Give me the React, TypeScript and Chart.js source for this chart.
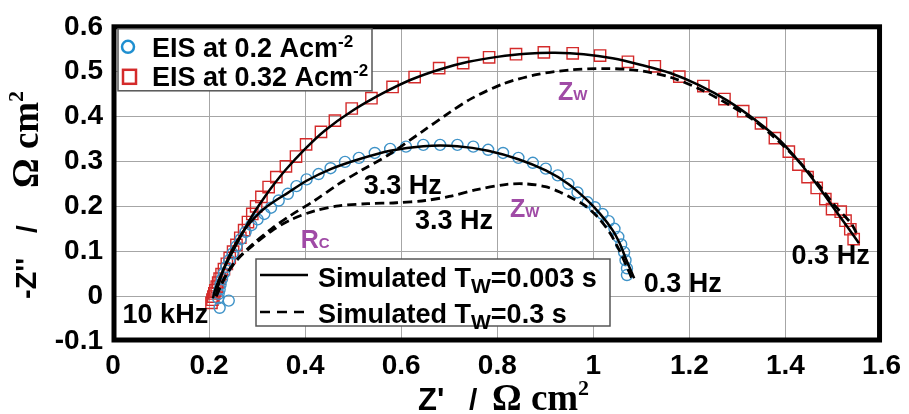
import React, { useEffect, useRef } from 'react';
import { Chart, registerables } from 'chart.js';

Chart.register(...registerables);

// ---------- tick labels ----------
const xTickLabels = ['0', '0.2', '0.4', '0.6', '0.8', '1', '1.2', '1.4', '1.6'];
const yTickLabels = ['-0.1', '0', '0.1', '0.2', '0.3', '0.4', '0.5', '0.6'];

// ---------- measured EIS at 0.2 A cm-2 (circles) ----------
const eis02X = [0.222, 0.241, 0.219, 0.220, 0.222, 0.224, 0.227, 0.231, 0.236, 0.242, 0.249, 0.257, 0.266, 0.276, 0.288, 0.301,
  0.315, 0.329, 0.345, 0.364, 0.382, 0.403, 0.428, 0.453, 0.483, 0.512, 0.545, 0.577, 0.610, 0.646, 0.681, 0.717, 0.750, 0.781,
  0.812, 0.844, 0.874, 0.901, 0.926, 0.948, 0.967, 0.988, 1.003, 1.019, 1.032, 1.044, 1.052, 1.058, 1.064, 1.067, 1.070, 1.070];
const eis02Y = [-0.026, -0.010, -0.005, 0.005, 0.015, 0.026, 0.038, 0.051, 0.065, 0.080, 0.095, 0.111, 0.127, 0.143, 0.158, 0.171,
  0.183, 0.197, 0.213, 0.228, 0.245, 0.260, 0.272, 0.285, 0.299, 0.308, 0.319, 0.328, 0.333, 0.337, 0.337, 0.337, 0.333, 0.326,
  0.319, 0.308, 0.297, 0.284, 0.269, 0.250, 0.231, 0.209, 0.198, 0.183, 0.167, 0.150, 0.132, 0.115, 0.098, 0.080, 0.062, 0.047];

// ---------- measured EIS at 0.32 A cm-2 (squares) ----------
const eis032X = [0.205, 0.207, 0.209, 0.211, 0.213, 0.216, 0.219, 0.222, 0.226, 0.231, 0.237, 0.243, 0.250, 0.257, 0.265, 0.273,
  0.281, 0.290, 0.298, 0.309, 0.324, 0.340, 0.360, 0.381, 0.402, 0.433, 0.462, 0.497, 0.538, 0.582, 0.628, 0.679, 0.729, 0.783,
  0.839, 0.897, 0.957, 1.014, 1.072, 1.128, 1.179, 1.229, 1.273, 1.312, 1.349, 1.378, 1.407, 1.427, 1.446, 1.465, 1.483, 1.497,
  1.515, 1.525, 1.535, 1.542];
const eis032Y = [-0.015, -0.008, -0.001, 0.006, 0.013, 0.021, 0.030, 0.039, 0.049, 0.060, 0.072, 0.085, 0.099, 0.114, 0.130, 0.147,
  0.165, 0.183, 0.200, 0.221, 0.243, 0.265, 0.289, 0.311, 0.338, 0.366, 0.391, 0.418, 0.441, 0.466, 0.488, 0.508, 0.519, 0.532,
  0.539, 0.543, 0.541, 0.536, 0.522, 0.512, 0.489, 0.468, 0.439, 0.412, 0.385, 0.352, 0.322, 0.293, 0.265, 0.241, 0.216, 0.194,
  0.188, 0.168, 0.149, 0.127];

// ---------- simulated, Tw = 0.003 s (solid) ----------
const simFast02X = [0.214, 0.218, 0.224, 0.232, 0.243, 0.257, 0.275, 0.296, 0.315, 0.340, 0.364, 0.403, 0.453, 0.512, 0.577, 0.646,
  0.717, 0.781, 0.844, 0.901, 0.948, 0.985, 1.015, 1.040, 1.056, 1.067, 1.077, 1.085];
const simFast02Y = [0.0, 0.018, 0.040, 0.065, 0.092, 0.120, 0.150, 0.176, 0.195, 0.214, 0.230, 0.257, 0.283, 0.305, 0.324, 0.334,
  0.334, 0.324, 0.305, 0.280, 0.250, 0.216, 0.182, 0.147, 0.115, 0.085, 0.060, 0.040];

const simFast032X = [0.208, 0.212, 0.218, 0.226, 0.236, 0.248, 0.262, 0.277, 0.292, 0.310, 0.330, 0.360, 0.400, 0.440, 0.500, 0.560,
  0.620, 0.680, 0.740, 0.800, 0.860, 0.920, 0.980, 1.040, 1.100, 1.160, 1.220, 1.280, 1.340, 1.390, 1.430, 1.470, 1.500, 1.525,
  1.545, 1.553];
const simFast032Y = [-0.005, 0.012, 0.030, 0.050, 0.072, 0.097, 0.125, 0.155, 0.183, 0.212, 0.242, 0.282, 0.328, 0.368, 0.414, 0.451,
  0.482, 0.505, 0.522, 0.533, 0.540, 0.542, 0.539, 0.530, 0.515, 0.497, 0.470, 0.435, 0.390, 0.345, 0.297, 0.242, 0.197, 0.160,
  0.130, 0.118];

// ---------- simulated, Tw = 0.3 s (dashed) ----------
const simSlow02X = [0.215, 0.225, 0.240, 0.260, 0.290, 0.330, 0.370, 0.420, 0.470, 0.530, 0.590, 0.650, 0.700, 0.760, 0.820, 0.860,
  0.900, 0.930, 0.960, 0.985, 1.010, 1.035, 1.055, 1.070, 1.080];
const simSlow02Y = [0.0, 0.025, 0.055, 0.083, 0.112, 0.145, 0.170, 0.190, 0.201, 0.206, 0.208, 0.213, 0.222, 0.238, 0.249, 0.250,
  0.244, 0.232, 0.216, 0.200, 0.175, 0.140, 0.100, 0.065, 0.040];

const simSlow032X = [0.215, 0.225, 0.240, 0.260, 0.290, 0.330, 0.370, 0.420, 0.470, 0.520, 0.574, 0.643, 0.698, 0.746, 0.815, 0.884,
  0.952, 1.022, 1.091, 1.159, 1.220, 1.280, 1.330, 1.370, 1.410, 1.445, 1.475, 1.500, 1.520, 1.538, 1.548];
const simSlow032Y = [0.0, 0.025, 0.055, 0.083, 0.115, 0.150, 0.180, 0.213, 0.250, 0.282, 0.315, 0.366, 0.407, 0.440, 0.474, 0.494,
  0.504, 0.507, 0.503, 0.488, 0.462, 0.428, 0.395, 0.360, 0.320, 0.280, 0.240, 0.205, 0.182, 0.160, 0.140];

// ---------- in-plot annotations ----------
const annoText = ['10 kHz', '3.3 Hz', '3.3 Hz', '0.3 Hz', '0.3 Hz'];
const annoX = [0.109, 0.603, 0.710, 1.186, 1.494];
const annoY = [-0.044, 0.245, 0.166, 0.026, 0.088];
const symMain = ['Z', 'Z', 'R'];
const symSub = ['W', 'W', 'C'];
const symX = [0.857, 0.957, 0.421];
const symY = [0.196, 0.457, 0.128];

const SANS = '"Liberation Sans", Arial, sans-serif';
const SERIF = '"Liberation Serif", "Times New Roman", serif';
const BLUE = '#3f93c8';
const RED = '#d42a2a';
const PURPLE = '#a04ba6';

const zip = (xs: number[], ys: number[]) => xs.map((x, i) => ({ x, y: ys[i] }));

type Run = { text: string; font: string; dy?: number; color?: string };
function drawRuns(ctx: CanvasRenderingContext2D, x: number, y: number, parts: Run[]) {
  let cx = x;
  for (const p of parts) {
    ctx.font = p.font;
    ctx.fillStyle = p.color || '#000';
    ctx.fillText(p.text, cx, y + (p.dy || 0));
    cx += ctx.measureText(p.text).width;
  }
  return cx - x;
}

const decorPlugin = {
  id: 'decor',
  afterDatasetsDraw(chart: any) {
    const ctx: CanvasRenderingContext2D = chart.ctx;
    const xs = chart.scales.x;
    const ys = chart.scales.y;
    ctx.save();
    ctx.textBaseline = 'middle';
    ctx.textAlign = 'center';
    ctx.fillStyle = '#000';
    ctx.font = `bold 27px ${SANS}`;
    annoText.forEach((t, i) => {
      ctx.fillText(t, xs.getPixelForValue(annoX[i]), ys.getPixelForValue(annoY[i]));
    });
    ctx.textAlign = 'left';
    ctx.textBaseline = 'alphabetic';
    symMain.forEach((t, i) => {
      const px = xs.getPixelForValue(symX[i]);
      const py = ys.getPixelForValue(symY[i]);
      ctx.font = `bold 25px ${SANS}`;
      const w1 = ctx.measureText(t).width;
      ctx.font = `bold 15px ${SANS}`;
      const w2 = ctx.measureText(symSub[i]).width;
      drawRuns(ctx, px - (w1 + w2) / 2, py + 9, [
        { text: t, font: `bold 25px ${SANS}`, color: PURPLE },
        { text: symSub[i], font: `bold 15px ${SANS}`, color: PURPLE },
      ]);
    });
    ctx.restore();
  },
  afterDraw(chart: any) {
    const ctx: CanvasRenderingContext2D = chart.ctx;
    const a = chart.chartArea;
    ctx.save();
    // plot frame
    ctx.strokeStyle = '#000';
    ctx.lineWidth = 5;
    ctx.strokeRect(a.left + 1, a.top, a.right - a.left - 3, a.bottom - a.top - 1);

    // top-left legend
    const lx = a.left + 5, ly = a.top + 2, lw = 254, lh = 62;
    ctx.fillStyle = '#fff';
    ctx.fillRect(lx, ly, lw, lh);
    ctx.strokeStyle = '#555';
    ctx.lineWidth = 1.5;
    ctx.strokeRect(lx, ly, lw, lh);
    ctx.lineWidth = 2.5;
    ctx.strokeStyle = '#1f8fd0';
    ctx.beginPath();
    ctx.arc(lx + 10, ly + 18, 6, 0, Math.PI * 2);
    ctx.stroke();
    ctx.strokeStyle = RED;
    ctx.strokeRect(lx + 5, ly + 41, 13, 14);
    ctx.textBaseline = 'alphabetic';
    ctx.textAlign = 'left';
    drawRuns(ctx, lx + 34, ly + 28, [
      { text: 'EIS at 0.2 Acm', font: `bold 27px ${SANS}` },
      { text: '-2', font: `bold 17px ${SANS}`, dy: -10 },
    ]);
    drawRuns(ctx, lx + 34, ly + 57, [
      { text: 'EIS at 0.32 Acm', font: `bold 27px ${SANS}` },
      { text: '-2', font: `bold 17px ${SANS}`, dy: -10 },
    ]);

    // bottom legend
    const bx = 256, by = 259, bw = 354, bh = 67;
    ctx.fillStyle = '#fff';
    ctx.fillRect(bx, by, bw, bh);
    ctx.strokeStyle = '#555';
    ctx.lineWidth = 1.5;
    ctx.strokeRect(bx, by, bw, bh);
    ctx.strokeStyle = '#000';
    ctx.lineWidth = 2.5;
    ctx.beginPath();
    ctx.moveTo(bx + 4, by + 16);
    ctx.lineTo(bx + 52, by + 16);
    ctx.stroke();
    ctx.setLineDash([10, 7]);
    ctx.beginPath();
    ctx.moveTo(bx + 4, by + 53);
    ctx.lineTo(bx + 52, by + 53);
    ctx.stroke();
    ctx.setLineDash([]);
    drawRuns(ctx, bx + 62, by + 28, [
      { text: 'Simulated T', font: `bold 27px ${SANS}` },
      { text: 'W', font: `bold 21px ${SANS}`, dy: 6 },
      { text: '=0.003 s', font: `bold 27px ${SANS}` },
    ]);
    drawRuns(ctx, bx + 62, by + 64, [
      { text: 'Simulated T', font: `bold 27px ${SANS}` },
      { text: 'W', font: `bold 21px ${SANS}`, dy: 6 },
      { text: '=0.3 s', font: `bold 27px ${SANS}` },
    ]);

    // x-axis title
    ctx.fillStyle = '#000';
    drawRuns(ctx, 418, 410, [{ text: "Z'", font: `bold 31px ${SANS}` }]);
    drawRuns(ctx, 469, 410, [{ text: '/', font: `bold 30px ${SANS}` }]);
    drawRuns(ctx, 492, 410, [
      { text: 'Ω cm', font: `bold 37px ${SERIF}` },
      { text: '2', font: `bold 22px ${SERIF}`, dy: -15 },
    ]);

    // y-axis title (rotated)
    ctx.translate(36, 0);
    ctx.rotate(-Math.PI / 2);
    drawRuns(ctx, -299, 0, [{ text: "-Z''", font: `bold 29px ${SANS}` }]);
    drawRuns(ctx, -233, 0, [{ text: '/', font: `bold 28px ${SANS}` }]);
    drawRuns(ctx, -188, 2, [
      { text: 'Ω cm', font: `bold 37px ${SERIF}` },
      { text: '2', font: `bold 22px ${SERIF}`, dy: -15 },
    ]);
    ctx.restore();
  },
};

export default function App() {
  const ref = useRef<HTMLCanvasElement | null>(null);
  useEffect(() => {
    if (!ref.current) return;
    const chart = new Chart(ref.current, {
      type: 'scatter',
      data: {
        datasets: [
          {
            label: 'Simulated Tw=0.003 s (0.2)',
            data: zip(simFast02X, simFast02Y),
            showLine: true, borderColor: '#000', borderWidth: 2.5, pointRadius: 0, order: 1, tension: 0.3,
          },
          {
            label: 'Simulated Tw=0.003 s (0.32)',
            data: zip(simFast032X, simFast032Y),
            showLine: true, borderColor: '#000', borderWidth: 2.5, pointRadius: 0, order: 1, tension: 0.3,
          },
          {
            label: 'Simulated Tw=0.3 s (0.2)',
            data: zip(simSlow02X, simSlow02Y),
            showLine: true, borderColor: '#000', borderWidth: 2.8, borderDash: [9, 5], pointRadius: 0, order: 2, tension: 0.3,
          },
          {
            label: 'Simulated Tw=0.3 s (0.32)',
            data: zip(simSlow032X, simSlow032Y),
            showLine: true, borderColor: '#000', borderWidth: 2.8, borderDash: [9, 5], pointRadius: 0, order: 2, tension: 0.3,
          },
          {
            label: 'EIS at 0.2 Acm-2',
            data: zip(eis02X, eis02Y),
            showLine: false, pointStyle: 'circle', pointRadius: 5.5, borderColor: BLUE, borderWidth: 1.4,
            backgroundColor: 'rgba(0,0,0,0)', order: 3,
          },
          {
            label: 'EIS at 0.32 Acm-2',
            data: zip(eis032X, eis032Y),
            showLine: false, pointStyle: 'rect', pointRadius: 8, borderColor: RED, borderWidth: 1.4,
            backgroundColor: 'rgba(0,0,0,0)', order: 4,
          },
        ],
      },
      options: {
        responsive: false,
        animation: false,
        devicePixelRatio: 1,
        layout: { padding: { top: 25, right: 23, left: 0, bottom: 0 } },
        plugins: { legend: { display: false }, tooltip: { enabled: false } },
        scales: {
          x: {
            type: 'linear', min: 0, max: 1.6,
            afterFit: (s: any) => { s.height = 73; },
            border: { display: false },
            grid: { color: '#a6a6a6', lineWidth: 1, drawTicks: false },
            ticks: {
              stepSize: 0.2, padding: 8, color: '#000',
              font: { family: SANS, size: 28, weight: 'bold' },
              callback: (v: any) => xTickLabels[Math.round(Number(v) / 0.2)] ?? '',
            },
          },
          y: {
            type: 'linear', min: -0.1, max: 0.6,
            afterFit: (s: any) => { s.width = 113; },
            border: { display: false },
            grid: { color: '#a6a6a6', lineWidth: 1, drawTicks: false },
            ticks: {
              stepSize: 0.1, padding: 10, color: '#000',
              font: { family: SANS, size: 28, weight: 'bold' },
              callback: (v: any) => yTickLabels[Math.round((Number(v) + 0.1) / 0.1)] ?? '',
            },
          },
        },
      },
      plugins: [decorPlugin],
    } as any);
    return () => chart.destroy();
  }, []);

  return (
    <div style={{ position: 'absolute', left: 0, top: 0, width: 909, height: 414, background: '#fff' }}>
      <canvas ref={ref} width={909} height={414} style={{ width: 909, height: 414, display: 'block' }} />
    </div>
  );
}
